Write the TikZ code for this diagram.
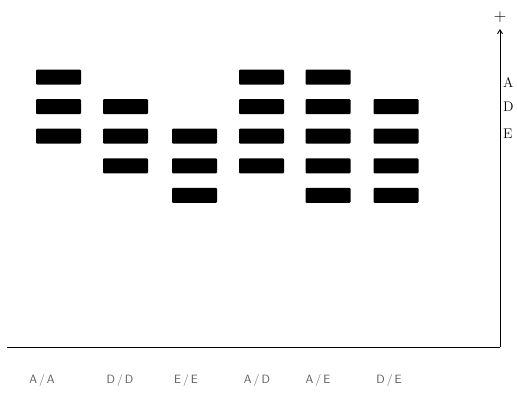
\documentclass[tikz,border=0pt]{standalone}
\usetikzlibrary{arrows.meta}
\begin{document}
\begin{tikzpicture}[x=1pt,y=-1pt,
  band/.style={fill=black,minimum width=45pt,minimum height=15pt,inner sep=0pt,rounded corners=1pt},
  lane/.style={font=\sffamily\fontsize{12}{13}\selectfont,text=black!65},
  axlabel/.style={font=\fontsize{14}{15}\selectfont,anchor=west,inner sep=0pt},
  axis/.style={line width=0.9pt}]
\useasboundingbox (0,0) rectangle (517,392);
% bands
\foreach \c/\x/\rows in {1/58.5/{1,2,3},2/125.5/{2,3,4},3/194.5/{3,4,5},4/261.5/{1,2,3,4},5/328/{1,2,3,4,5},6/396/{2,3,4,5}}{
  \foreach \r in \rows {
    \pgfmathsetmacro{\yy}{77+29.6*(\r-1)}
    \node[band] (b\c\r) at (\x,\yy) {};
  }
}
% axes
\coordinate (o) at (500,347);
\coordinate (l) at (7,347);
\coordinate (t) at (500,29);
\draw[axis] (l) -- (o);
\draw[axis,-{Straight Barb[length=4pt,width=5pt]}] (o) -- (t);
\node[font=\fontsize{18}{18}\selectfont,inner sep=0pt] (plus) at (500,17) {$+$};
\node[axlabel] (mA) at (503,82) {A};
\node[axlabel] (mD) at (503,107) {D};
\node[axlabel] (mE) at (503,134) {E};
% lane labels
\node[lane] (n1) at (42,380) {A\,/\,A};
\node[lane] (n2) at (120,380) {D\,/\,D};
\node[lane] (n3) at (186,380) {E\,/\,E};
\node[lane] (n4) at (257,380) {A\,/\,D};
\node[lane] (n5) at (318,380) {A\,/\,E};
\node[lane] (n6) at (389,380) {D\,/\,E};
\end{tikzpicture}
\end{document}
